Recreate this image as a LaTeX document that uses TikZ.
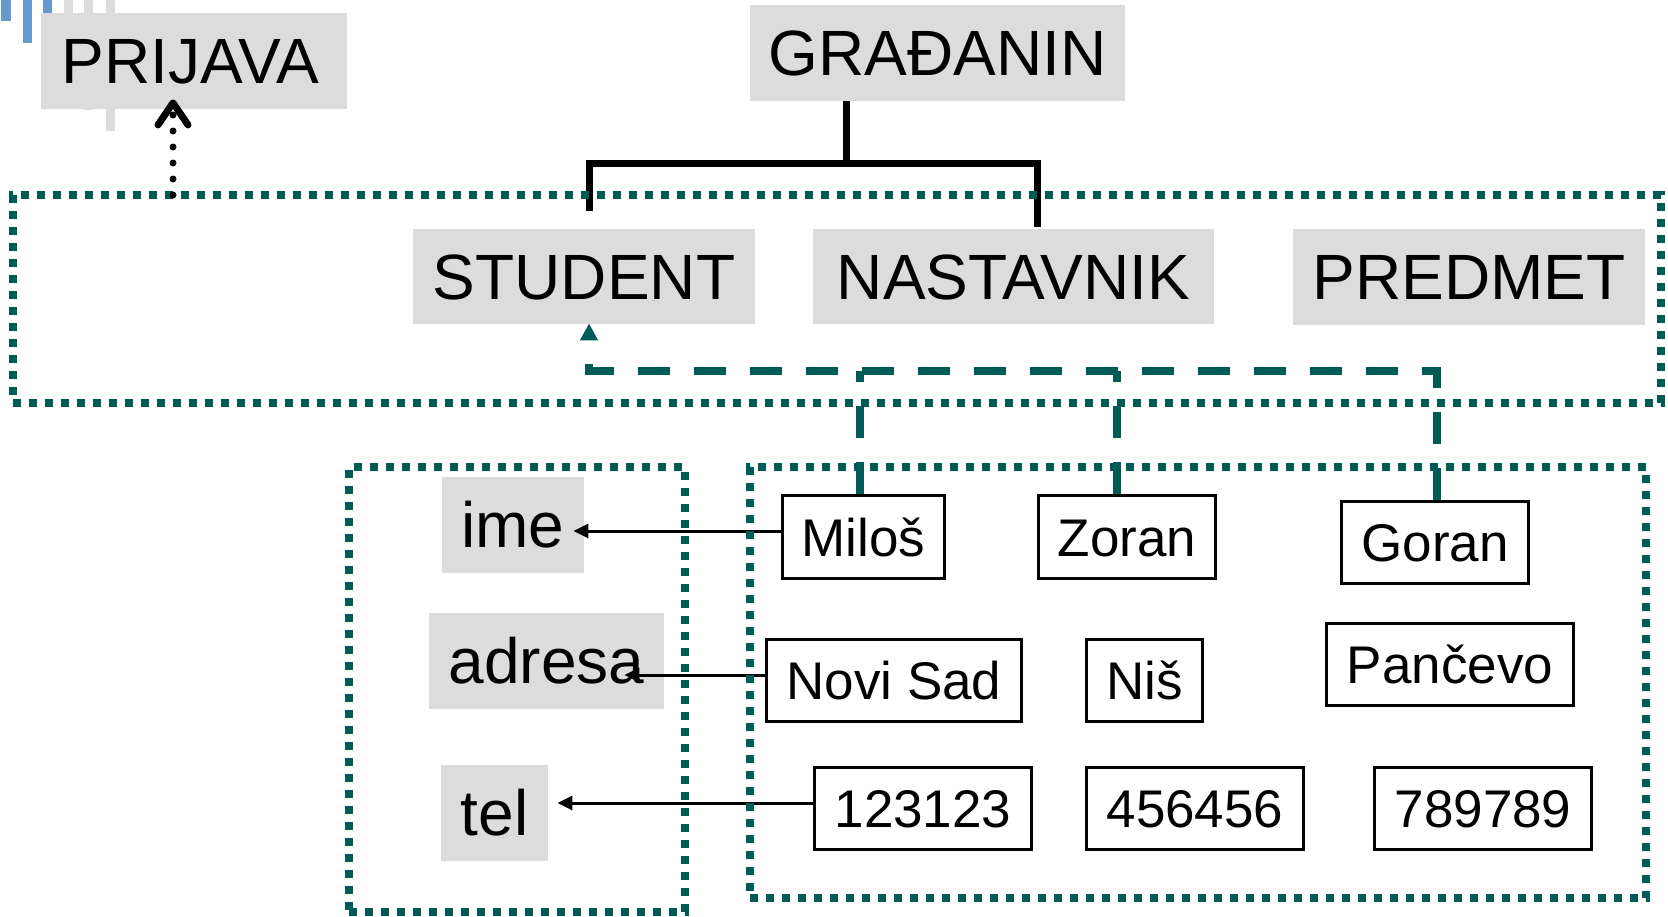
\documentclass[tikz,border=0pt]{standalone}
\usepackage{fontspec}
\setmainfont{Liberation Sans}
\usetikzlibrary{arrows.meta,calc}
\definecolor{boxgray}{RGB}{220,220,220}
\definecolor{tealc}{RGB}{0,91,87}
\definecolor{deco}{RGB}{102,153,204}
\tikzset{
  big/.style={fill=boxgray, inner sep=0pt, font=\fontsize{32pt}{32pt}\selectfont, text height=22.9pt, text depth=0pt},
  small/.style={draw=black, line width=1.5pt, fill=white, inner sep=0pt, font=\fontsize{26.5pt}{26.5pt}\selectfont, text height=19pt, text depth=0pt},
  dotbox/.style={draw=tealc, line width=4pt, dash pattern=on 4pt off 4pt, inner sep=0pt},
  tealdash/.style={draw=tealc, line width=4pt, dash pattern=on 16pt off 12pt},
  tealarrow/.style={-{Triangle[length=8.5pt,width=8.5pt]}},
  tree/.style={draw=black, line width=3.5pt},
  attrarrow/.style={draw=black, line width=1.5pt, -{Triangle[length=7.5pt,width=7pt]}},
  dotarrow/.style={draw=black, line width=3.5pt, dash pattern=on 0pt off 8pt, line cap=round, -{Straight Barb[length=11pt,width=15pt,round]}}
}
\begin{document}
\begin{tikzpicture}[x=0.5pt,y=-0.5pt]
\useasboundingbox (0,0) rectangle (1668,916);
% decorative bars
\fill[deco] (1,0) rectangle (11,21);
\fill[deco] (23,0) rectangle (32,43);
\fill[deco] (43,0) rectangle (52,30);
\fill[boxgray] (64,0) rectangle (73,40);
\fill[boxgray] (84,0) rectangle (93,110);
\fill[boxgray] (106,0) rectangle (115,131);

% big gray boxes
\node[big, minimum width=153pt, minimum height=48pt] (prijava) at (194,61) {\hspace*{-3.5pt}PRIJAVA};
\node[big, minimum width=187.5pt, minimum height=48pt] (gradj) at (937.5,53) {GRAĐANIN};
\node[big, minimum width=171pt, minimum height=47.5pt] (student) at (584,276.5) {STUDENT};
\node[big, minimum width=200.5pt, minimum height=47.5pt] (nastavnik) at (1013.5,276.5) {NASTAVNIK};
\node[big, minimum width=176pt, minimum height=48pt] (predmet) at (1469,277) {PREDMET};
\node[big, minimum width=71pt, minimum height=48pt] (ime) at (513,525) {ime};
\node[big, minimum width=117.5pt, minimum height=48pt] (adresa) at (546.5,661) {adresa};
\node[big, minimum width=53.5pt, minimum height=48pt] (tel) at (494.5,813) {tel};

% small value boxes
\node[small, minimum width=81pt, minimum height=41.5pt] (milos) at (863.5,537) {Miloš};
\node[small, minimum width=88.5pt, minimum height=41.5pt] (zoran) at (1127,537) {Zoran};
\node[small, minimum width=93.5pt, minimum height=41pt] (goran) at (1435,542.5) {Goran};
\node[small, minimum width=127.5pt, minimum height=41pt] (novisad) at (894,680.5) {Novi Sad};
\node[small, minimum width=58pt, minimum height=41pt] (nis) at (1144.5,680.5) {Niš};
\node[small, minimum width=123.5pt, minimum height=41pt] (pancevo) at (1450,664.5) {Pančevo};
\node[small, minimum width=108.5pt, minimum height=41pt] (n123) at (923,808.5) {123123};
\node[small, minimum width=108.5pt, minimum height=41pt] (n456) at (1195,808.5) {456456};
\node[small, minimum width=108.5pt, minimum height=41pt] (n789) at (1483,808.5) {789789};

% attribute arrows
\draw[attrarrow] ($(milos.west)+(0,-6)$) -- ($(ime.east)+(-11,6)$);
\draw[attrarrow] ($(novisad.west)+(0,-5.5)$) -- ($(adresa.east)+(-40,14)$);
\draw[attrarrow] ($(n123.west)+(0,-5.5)$) -- ($(tel.east)+(9,-10)$);

% tree
\coordinate (tj) at (846,163);
\draw[tree] (gradj.south -| tj) -- (tj);
\draw[tree] ($(student.north)+(5,-18)$) |- (tj) -| ($(nastavnik.north)+(23.5,-2)$);

% dotted containers
\node[dotbox, minimum width=824pt, minimum height=104pt] (grp) at (837,299) {};
\node[dotbox, minimum width=168pt, minimum height=222.5pt] (attrs) at (517,689.5) {};
\node[dotbox, minimum width=448.25pt, minimum height=215.5pt] (vals) at (1197.75,682.5) {};

% dashed teal connectors
\draw[tealdash, tealarrow] ($(goran.north)+(2,0)$) |- ($(student.south)+(5,47)$) -- ($(student.south)+(5,-1)$);
\draw[tealdash] ($(milos.north)+(-3.5,0)$) -- ++(0,-123);
\draw[tealdash] ($(zoran.north)+(-10,0)$) -- ++(0,-123);

% dotted arrow to PRIJAVA
\coordinate (pa) at (173,195);
\draw[dotarrow] (pa) -- ($(prijava.south)+(-21,-10)$);
\end{tikzpicture}
\end{document}
